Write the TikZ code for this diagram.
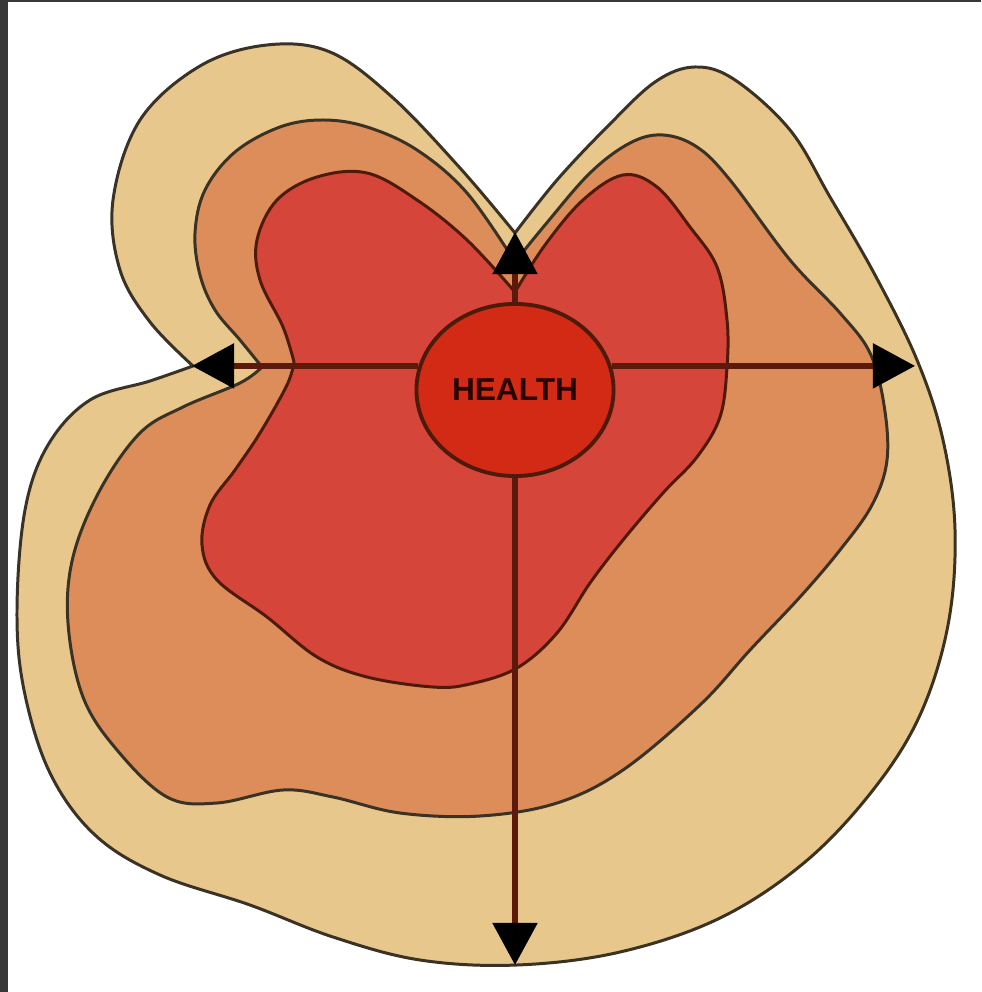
\documentclass[tikz,border=0pt]{standalone}
\usepackage{fontspec}
\setsansfont{Liberation Sans}
\usetikzlibrary{arrows.meta, shapes.geometric, calc, positioning}
\definecolor{Sand}{HTML}{E8C78D}
\definecolor{Clay}{HTML}{DC8D5A}
\definecolor{Brick}{HTML}{D6453A}
\definecolor{Core}{HTML}{D22A14}
\definecolor{Edge}{HTML}{3A3224}
\definecolor{EdgeDark}{HTML}{4E1A0A}
\definecolor{AxisBrown}{HTML}{5C1A0C}
\definecolor{Frame}{HTML}{383838}

\begin{document}
\begin{tikzpicture}[x=0.01cm, y=-0.01cm,
        zone/.style={draw=Edge, line width=0.85pt, line join=round},
        axis/.style={draw=AxisBrown, line width=1.5pt, -{Triangle[length=0.42cm, width=0.44cm, color=black]}},
        core/.style={ellipse, draw=EdgeDark, line width=1.1pt, fill=Core, minimum width=1.97cm, minimum height=1.72cm,
                    inner sep=0pt, font=\sffamily\bfseries\fontsize{9}{9}\selectfont, text=black!85!red}]
        \useasboundingbox (0,0) rectangle (981,992);
        \fill[white] (0,0) rectangle (981,992);
        \fill[Frame] (0,0) rectangle (8,992);
        \fill[Frame] (0,0) rectangle (981,2);
        \draw[zone, fill=Sand]
            plot[smooth, tension=0.6] coordinates {
                (515,233) (557,180) (607,127) (655,82) (695,67) (735,80) (790,130) (830,197) (875,275) (917,360)
                (943,440) (955,530) (948,625) (920,715) (873,790) (805,862) (720,918) (620,952) (517,965)
                (420,960) (333,937) (250,905) (160,875) (95,835) (50,773) (24,690) (17,610) (25,510) (48,445)
                (90,400) (150,381) (193,366)}
            -- plot[smooth, tension=0.6] coordinates {
                (193,366) (150,322) (120,270) (113,200) (140,120) (200,66) (267,45) (330,52) (392,97) (460,168) (515,233)}
            -- cycle;
        \draw[zone, fill=Clay]
            plot[smooth, tension=0.6] coordinates {
                (515,262) (545,225) (590,173) (630,143) (663,135) (697,147) (730,180) (790,260) (840,313) (870,353)
                (884,405) (887,460) (872,505) (840,550) (800,597) (750,650) (700,705) (623,770) (557,803)
                (480,816) (400,813) (333,797) (283,790) (217,803) (167,797) (117,750) (83,697) (68,623) (73,557)
                (100,490) (140,433) (183,407) (240,383) (262,367)}
            -- plot[smooth, tension=0.6] coordinates {
                (262,367) (240,340) (215,310) (200,275) (195,233) (205,190) (235,152) (280,127) (323,120) (367,127)
                (417,150) (467,193) (515,262)}
            -- cycle;
        \draw[zone, draw=EdgeDark, fill=Brick]
            plot[smooth, tension=0.6] coordinates {
                (515,292) (545,245) (583,200) (623,175) (657,187) (690,227) (717,267) (727,320) (727,367) (720,417)
                (697,457) (663,493) (623,540) (590,583) (557,633) (517,668) (470,684) (433,687) (367,677) (317,657)
                (267,617) (217,580) (202,545) (210,505) (235,470) (260,433) (287,385) (294,362)}
            -- plot[smooth, tension=0.6] coordinates {
                (294,362) (283,327) (260,280) (257,240) (277,200) (317,177) (367,173) (417,200) (467,240) (515,292)}
            -- cycle;
        \node[core] (health) at (515,390) {HEALTH};
        \coordinate (ntip) at (515,232);
        \coordinate (wtip) at (192,366);
        \coordinate (etip) at (915,366);
        \coordinate (stip) at (515,965);
        \draw[axis] (health.north) -- (ntip);
        \draw[axis] (health.166) -- (health.166 -| wtip);
        \draw[axis] (health.14) -- (health.14 -| etip);
        \draw[axis] (health.south) -- (stip);
\end{tikzpicture}
\end{document}
